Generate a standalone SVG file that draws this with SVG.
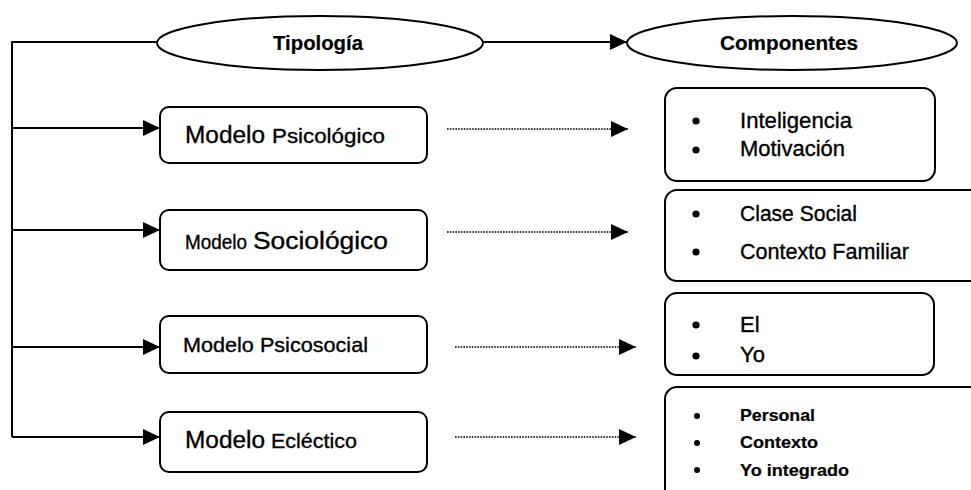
<svg xmlns="http://www.w3.org/2000/svg" width="971" height="490" viewBox="0 0 971 490">
<defs>
<style>
.shape{fill:#fff;stroke:#000;stroke-width:2}
.ln{fill:none;stroke:#000;stroke-width:2}
.dot{fill:none;stroke:#000;stroke-width:1.6;stroke-dasharray:1.6 1.2}
text{font-family:"Liberation Sans",Arial,sans-serif;fill:#000;stroke:#000;stroke-width:0.35}
.b{font-weight:bold;stroke-width:0.2}
</style>
<marker id="ah" markerUnits="userSpaceOnUse" markerWidth="18" markerHeight="18" viewBox="0 0 18 18" refX="17" refY="9" orient="auto">
<path d="M0,1 L17,9 L0,17 Z" fill="#000"/>
</marker>
</defs>
<rect width="971" height="490" fill="#fff"/>

<g id="connectors">
<path class="ln" d="M157,42 H12 V437"/>
<path class="ln" d="M482,42 H627" marker-end="url(#ah)"/>
<path class="ln" d="M12,128 H160" marker-end="url(#ah)"/>
<path class="ln" d="M12,230 H160" marker-end="url(#ah)"/>
<path class="ln" d="M12,347 H160" marker-end="url(#ah)"/>
<path class="ln" d="M12,437 H160" marker-end="url(#ah)"/>
<path class="dot" d="M447,129 H628" marker-end="url(#ah)"/>
<path class="dot" d="M447,232 H628" marker-end="url(#ah)"/>
<path class="dot" d="M455,347 H636" marker-end="url(#ah)"/>
<path class="dot" d="M455,437 H636" marker-end="url(#ah)"/>
</g>

<g id="tipologia">
<ellipse class="shape" cx="320" cy="43" rx="163" ry="27"/>
<text class="b" x="273" y="50" font-size="20" textLength="90" lengthAdjust="spacingAndGlyphs">Tipología</text>
</g>

<g id="componentes">
<ellipse class="shape" cx="792" cy="43" rx="165" ry="27"/>
<text class="b" x="720" y="50" font-size="20" textLength="138" lengthAdjust="spacingAndGlyphs">Componentes</text>
</g>

<g id="modelo-psicologico">
<rect class="shape" x="160" y="107" width="267" height="56" rx="9"/>
<text x="185" y="143" font-size="23" textLength="80" lengthAdjust="spacingAndGlyphs">Modelo</text>
<text x="272" y="143" font-size="21" textLength="113" lengthAdjust="spacingAndGlyphs">Psicológico</text>
</g>

<g id="modelo-sociologico">
<rect class="shape" x="160" y="210" width="267" height="60" rx="9"/>
<text x="185" y="249" font-size="21" textLength="62" lengthAdjust="spacingAndGlyphs">Modelo</text>
<text x="253" y="249" font-size="23" textLength="135" lengthAdjust="spacingAndGlyphs">Sociológico</text>
</g>

<g id="modelo-psicosocial">
<rect class="shape" x="160" y="316" width="267" height="57" rx="9"/>
<text x="183" y="352" font-size="21" textLength="185" lengthAdjust="spacingAndGlyphs">Modelo Psicosocial</text>
</g>

<g id="modelo-eclectico">
<rect class="shape" x="160" y="412" width="267" height="60" rx="9"/>
<text x="185" y="448" font-size="23" textLength="80" lengthAdjust="spacingAndGlyphs">Modelo</text>
<text x="271" y="448" font-size="21" textLength="86" lengthAdjust="spacingAndGlyphs">Ecléctico</text>
</g>

<g id="comp-psicologico">
<rect class="shape" x="665" y="88" width="270" height="93" rx="12"/>
<circle cx="696" cy="121" r="3.6"/>
<circle cx="696" cy="150" r="3.6"/>
<text x="740" y="128" font-size="22" textLength="112" lengthAdjust="spacingAndGlyphs">Inteligencia</text>
<text x="740" y="156" font-size="22" textLength="105" lengthAdjust="spacingAndGlyphs">Motivación</text>
</g>

<g id="comp-sociologico">
<rect class="shape" x="665" y="190" width="330" height="91" rx="12"/>
<circle cx="696" cy="214" r="3.6"/>
<circle cx="696" cy="252" r="3.6"/>
<text x="740" y="221" font-size="22" textLength="117" lengthAdjust="spacingAndGlyphs">Clase Social</text>
<text x="740" y="259" font-size="22" textLength="169" lengthAdjust="spacingAndGlyphs">Contexto Familiar</text>
</g>

<g id="comp-psicosocial">
<rect class="shape" x="665" y="293" width="269" height="82" rx="12"/>
<circle cx="696" cy="325" r="3.6"/>
<circle cx="696" cy="356" r="3.6"/>
<text x="740" y="332" font-size="22">El</text>
<text x="740" y="362" font-size="22">Yo</text>
</g>

<g id="comp-eclectico">
<rect class="shape" x="665" y="387" width="330" height="115" rx="12"/>
<circle cx="697" cy="416" r="3"/>
<circle cx="697" cy="443" r="3"/>
<circle cx="697" cy="470" r="3"/>
<text class="b" x="740" y="421" font-size="17" textLength="75" lengthAdjust="spacingAndGlyphs">Personal</text>
<text class="b" x="740" y="448" font-size="17" textLength="78" lengthAdjust="spacingAndGlyphs">Contexto</text>
<text class="b" x="740" y="476" font-size="17" textLength="109" lengthAdjust="spacingAndGlyphs">Yo integrado</text>
</g>
</svg>
